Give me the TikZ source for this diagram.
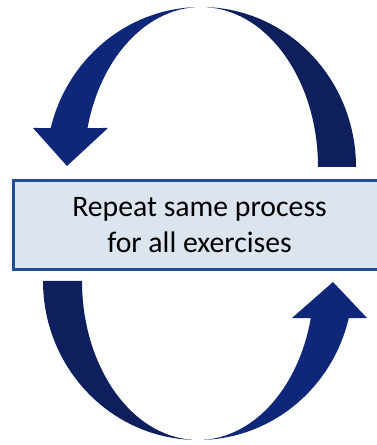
\documentclass[tikz,border=0pt]{standalone}
\usepackage{fontspec}
\setmainfont{Carlito}
\usetikzlibrary{positioning}
\definecolor{navybright}{RGB}{15,39,120}
\definecolor{navydark}{RGB}{13,31,93}
\definecolor{boxfill}{RGB}{220,228,238}
\definecolor{boxline}{RGB}{30,78,150}
\begin{document}
\begin{tikzpicture}[x=0.75pt,y=0.75pt,
		brightarc/.style={fill=navybright},
		darkarc/.style={fill=navydark},
		taskbox/.style={draw=boxline,line width=2.25pt,fill=boxfill,minimum width=279pt,minimum height=66.75pt,align=center,font=\fontsize{22.3}{26.5}\selectfont}]
		\useasboundingbox (0,0) rectangle (377,445);
		\coordinate (topmid) at (201,278);
		\coordinate (botmid) at (198,164);
		\node[taskbox](task) at (199.5,220) {Repeat same process\\for all exercises};
		\fill[brightarc] ([shift={(topmid)}]93:155 and 160) arc[start angle=93,end angle=165.9,x radius=155,y radius=160]
		-- (33,317) -- (67,279) -- (108,317)
		-- ([shift={(topmid)}]165.9:117 and 160) arc[start angle=165.9,end angle=93,x radius=117,y radius=160] -- cycle;
		\fill[darkarc] ([shift={(topmid)}]87:155 and 160) arc[start angle=87,end angle=0,x radius=155,y radius=160]
		-- ([shift={(topmid)}]0:117 and 160) arc[start angle=0,end angle=87,x radius=117,y radius=160] -- cycle;
		\fill[darkarc] ([shift={(botmid)}]180:155 and 159) arc[start angle=180,end angle=267,x radius=155,y radius=159]
		-- ([shift={(botmid)}]267:116 and 159) arc[start angle=267,end angle=180,x radius=116,y radius=159] -- cycle;
		\fill[brightarc] ([shift={(botmid)}]273:155 and 159) arc[start angle=273,end angle=346.5,x radius=155,y radius=159]
		-- (367,127) -- (333,163) -- (292,127)
		-- ([shift={(botmid)}]346.5:116 and 159) arc[start angle=346.5,end angle=273,x radius=116,y radius=159] -- cycle;
		\end{tikzpicture}
\end{document}
